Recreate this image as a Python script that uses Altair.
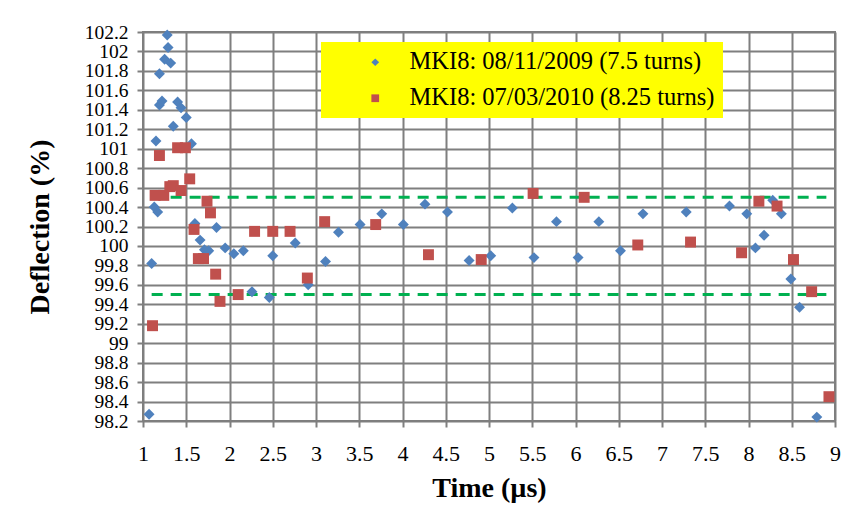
import altair as alt
import pandas as pd

series_names = ["MKI8: 08/11/2009 (7.5 turns)", "MKI8: 07/03/2010 (8.25 turns)"]
series_colors = ["#4f81bd", "#c0504d"]

blue_t = [1.07, 1.10, 1.13, 1.15, 1.17, 1.19, 1.19, 1.22, 1.25, 1.28, 1.29, 1.32, 1.35,
          1.40, 1.44, 1.50, 1.56, 1.60, 1.66, 1.71, 1.76, 1.85, 1.95, 2.05, 2.16, 2.26,
          2.46, 2.50, 2.76, 2.91, 3.11, 3.26, 3.51, 3.76, 4.01, 4.26, 4.52, 4.77, 5.02,
          5.27, 5.52, 5.78, 6.03, 6.27, 6.52, 6.78, 7.28, 7.78, 7.98, 8.08, 8.18, 8.28,
          8.38, 8.49, 8.59, 8.79]
blue_v = [98.27, 99.82, 100.40, 101.08, 100.35, 101.45, 101.77, 101.49, 101.92, 102.17,
          102.04, 101.88, 101.23, 101.48, 101.42, 101.32, 101.05, 100.23, 100.06, 99.96,
          99.95, 100.19, 99.98, 99.92, 99.95, 99.53, 99.47, 99.90, 100.03, 99.60, 99.84,
          100.14, 100.22, 100.33, 100.22, 100.43, 100.35, 99.85, 99.90, 100.39, 99.88,
          100.25, 99.88, 100.25, 99.95, 100.33, 100.35, 100.41, 100.33, 99.98, 100.11,
          100.47, 100.33, 99.66, 99.37, 98.24]

red_t = [1.11, 1.14, 1.19, 1.24, 1.31, 1.35, 1.40, 1.44, 1.49, 1.54, 1.59, 1.64, 1.70,
         1.74, 1.78, 1.84, 1.89, 2.10, 2.29, 2.50, 2.70, 2.90, 3.10, 3.69, 4.30, 4.91,
         5.51, 6.10, 6.72, 7.33, 7.92, 8.12, 8.33, 8.52, 8.73, 8.93]
red_v = [99.18, 100.52, 100.93, 100.52, 100.61, 100.62, 101.01, 100.57, 101.01, 100.69,
         100.17, 99.87, 99.87, 100.46, 100.34, 99.71, 99.43, 99.50, 100.15, 100.15,
         100.15, 99.67, 100.25, 100.22, 99.91, 99.86, 100.54, 100.50, 100.01, 100.04,
         99.93, 100.46, 100.41, 99.86, 99.53, 98.45]

limit_t = [1.1, 8.9]
limit_upper = 100.5
limit_lower = 99.5

x_domain = [1, 9]
y_domain = [98.2, 102.2]
x_ticks = [1, 1.5, 2, 2.5, 3, 3.5, 4, 4.5, 5, 5.5, 6, 6.5, 7, 7.5, 8, 8.5, 9]
y_ticks = [98.2, 98.4, 98.6, 98.8, 99, 99.2, 99.4, 99.6, 99.8, 100, 100.2, 100.4,
           100.6, 100.8, 101, 101.2, 101.4, 101.6, 101.8, 102, 102.2]

df = pd.concat([
    pd.DataFrame({"t": blue_t, "v": blue_v, "series": series_names[0]}),
    pd.DataFrame({"t": red_t, "v": red_v, "series": series_names[1]}),
], ignore_index=True)

limits = pd.DataFrame({
    "t": [limit_t[0], limit_t[0]],
    "t2": [limit_t[1], limit_t[1]],
    "v": [limit_upper, limit_lower],
})

SERIF = "Liberation Serif"
GRID = "#7f7f7f"

xscale = alt.Scale(domain=x_domain, nice=False, zero=False)
yscale = alt.Scale(domain=y_domain, nice=False, zero=False)

x_axis = alt.Axis(values=x_ticks, format="~g", title="Time (µs)",
                  labelFontSize=22, labelPadding=16, titlePadding=10, titleFontSize=28,
                  grid=True, gridColor=GRID, gridWidth=2, gridOpacity=1, gridDash=[1, 0],
                  ticks=True, tickColor=GRID, tickWidth=2, tickSize=6, tickOpacity=1,
                  domain=False, zindex=0)
y_axis = alt.Axis(values=y_ticks, format="~g", title="Deflection (%)",
                  labelFontSize=19.5, labelPadding=9, titleFontSize=28,
                  titleX=-103, titleBaseline="middle",
                  grid=True, gridColor=GRID, gridWidth=2, gridOpacity=1, gridDash=[1, 0],
                  ticks=True, tickColor=GRID, tickWidth=2, tickSize=6, tickOpacity=1,
                  domain=False, zindex=0)

lines = alt.Chart(limits).mark_rule(color="#00b050", strokeWidth=3, strokeDash=[11, 8]).encode(
    x=alt.X("t:Q", scale=xscale, axis=x_axis), x2="t2:Q",
    y=alt.Y("v:Q", scale=yscale, axis=y_axis),
)

legend = alt.Legend(
    title=None, orient="none", legendX=178, legendY=10,
    fillColor="#ffff00", padding=8, symbolOffset=34, labelOffset=22,
    labelFont=SERIF, labelFontSize=24.5, labelColor="black", labelLimit=600,
    symbolSize=60, rowPadding=11, symbolStrokeWidth=0,
)

points = alt.Chart(df).mark_point(filled=True, opacity=1, size=120).encode(
    x=alt.X("t:Q", scale=xscale, axis=x_axis),
    y=alt.Y("v:Q", scale=yscale, axis=y_axis),
    color=alt.Color("series:N", scale=alt.Scale(domain=series_names, range=series_colors),
                    legend=legend),
    shape=alt.Shape("series:N", scale=alt.Scale(domain=series_names, range=["diamond", "square"]),
                    legend=legend),
)

chart = alt.layer(lines, points).properties(
    width=692, height=389,
    autosize=alt.AutoSizeParams(type="none"),
    padding={"left": 135, "top": 24, "right": 23, "bottom": 91},
    background="white",
).configure_axis(
    labelFont=SERIF, titleFont=SERIF, labelColor="black", titleColor="black",
    titleFontWeight="bold", labelOverlap=False, labelFlush=False,
).configure_axisY(labelOverlap=False, labelFont=SERIF, titleFont=SERIF).configure_view(
    stroke=GRID, strokeWidth=2, fill="white")

chart.save("out.html", embed_options={"renderer": "svg", "actions": False})
